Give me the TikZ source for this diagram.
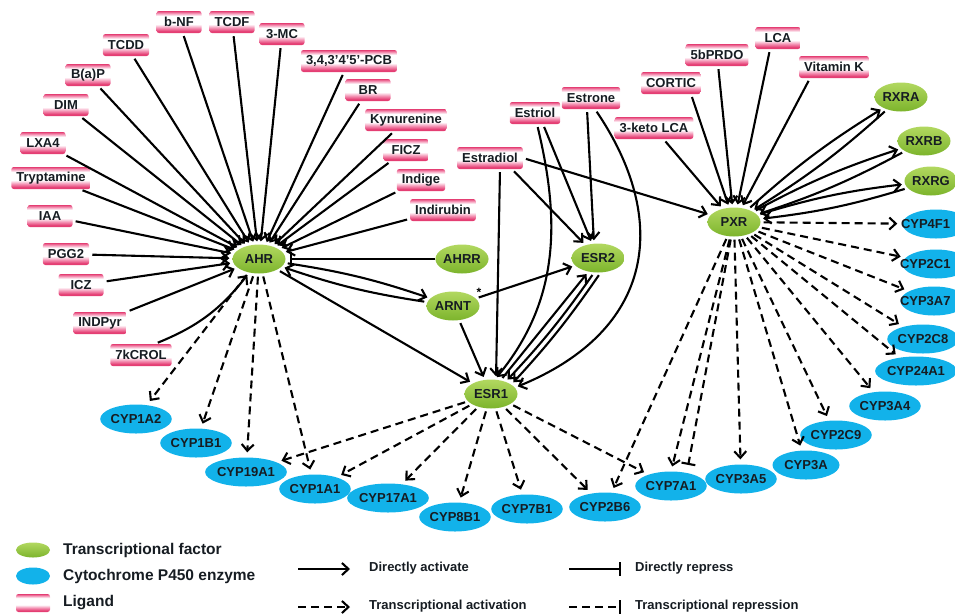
\documentclass[tikz,border=0pt]{standalone}
\usepackage{fontspec}
\setmainfont{Liberation Sans}
\usetikzlibrary{shapes.geometric,arrows.meta}
\definecolor{pinkC}{RGB}{228,62,115}
\definecolor{pinkL}{RGB}{244,150,182}
\definecolor{greenL}{RGB}{178,216,96}
\definecolor{greenD}{RGB}{124,180,44}
\definecolor{cypB}{RGB}{18,178,234}
\definecolor{txt}{RGB}{22,28,34}
\pgfdeclareverticalshading{ligshade}{100bp}{color(0bp)=(pinkC); color(25bp)=(pinkC); color(29bp)=(pinkC); color(37bp)=(pinkL); color(45bp)=(white); color(64bp)=(white); color(70bp)=(pinkL); color(75bp)=(pinkC); color(100bp)=(pinkC)}
\tikzset{
  lig/.style={shape=rectangle, rounded corners=2.5pt, shade, shading=ligshade, minimum width=45pt, minimum height=22pt, inner xsep=5pt, inner ysep=0pt, font=\fontsize{13}{13}\selectfont\bfseries, text=txt},
  tf/.style={ellipse, minimum width=53pt, minimum height=29pt, inner sep=0pt, top color=greenL, bottom color=greenD, font=\fontsize{13}{13}\selectfont\bfseries, text=txt},
  cyp/.style={ellipse, minimum width=67pt, minimum height=29pt, inner sep=0pt, fill=cypB, font=\fontsize{13}{13}\selectfont\bfseries, text=txt},
  act/.style={line width=2.1pt, -{Straight Barb[length=6.5pt,width=12pt]}, shorten >=3pt, shorten <=3pt},
  tact/.style={act, dash pattern=on 8pt off 5pt, shorten >=5pt},
  rep/.style={line width=2.1pt, -{Bar[width=14pt]}},
  trep/.style={rep, dash pattern=on 8pt off 5pt},
  legA/.style={font=\fontsize{15.5}{16}\selectfont\bfseries, text=txt, anchor=west, inner sep=0pt},
  legB/.style={font=\fontsize{13}{13}\selectfont\bfseries, text=txt, anchor=west, inner sep=0pt},
}
\begin{document}
\begin{tikzpicture}[x=1pt,y=-1pt]
\useasboundingbox (0,0) rectangle (955,614);
% ligands
\node[lig] (bnf) at (179,22) {b-NF};
\node[lig] (tcdf) at (232,22) {TCDF};
\node[lig] (mc) at (282,34) {3-MC};
\node[lig] (tcdd) at (126,45) {TCDD};
\node[lig] (pcb) at (349,61) {3,4,3'4'5'-PCB};
\node[lig] (bap) at (88,75) {B(a)P};
\node[lig] (br) at (368,90) {BR};
\node[lig] (dim) at (66,105) {DIM};
\node[lig] (kyn) at (406,120) {Kynurenine};
\node[lig] (lxa) at (43,143) {LXA4};
\node[lig] (ficz) at (406,150) {FICZ};
\node[lig] (trp) at (51,178) {Tryptamine};
\node[lig] (indige) at (421,180) {Indige};
\node[lig] (iaa) at (50,216) {IAA};
\node[lig] (indir) at (443,210) {Indirubin};
\node[lig] (pgg) at (66,254) {PGG2};
\node[lig] (icz) at (81,285) {ICZ};
\node[lig] (indpyr) at (100,323) {INDPyr};
\node[lig] (kcrol) at (141,355) {7kCROL};
\node[lig] (estradiol) at (490,158) {Estradiol};
\node[lig] (estriol) at (535,113) {Estriol};
\node[lig] (estrone) at (591,98) {Estrone};
\node[lig] (keto) at (654,128) {3-keto LCA};
\node[lig] (cortic) at (671,83) {CORTIC};
\node[lig] (bprdo) at (717,55) {5bPRDO};
\node[lig] (lca) at (778,38) {LCA};
\node[lig] (vitk) at (834,67) {Vitamin K};
% transcription factors
\node[tf] (ahr) at (259,259) {AHR};
\node[tf] (ahrr) at (462,259) {AHRR};
\node[tf] (arnt) at (453,306) {ARNT};
\node[font=\fontsize{12}{12}\selectfont\bfseries, inner sep=0pt] (ast) at (479,292) {*};
\node[tf] (esr2) at (598,258) {ESR2};
\node[tf] (esr1) at (491,394) {ESR1};
\node[tf] (pxr) at (734,222) {PXR};
\node[tf] (rxra) at (901,97) {RXRA};
\node[tf] (rxrb) at (924,141) {RXRB};
\node[tf] (rxrg) at (931,181) {RXRG};
% enzymes
\node[cyp] (cyp1a2) at (136,419) {CYP1A2};
\node[cyp] (cyp1b1) at (196,443) {CYP1B1};
\node[cyp] (cyp19a1) at (246,472) {CYP19A1};
\node[cyp] (cyp1a1) at (315,489) {CYP1A1};
\node[cyp] (cyp17a1) at (388,498) {CYP17A1};
\node[cyp] (cyp8b1) at (455,517) {CYP8B1};
\node[cyp] (cyp7b1) at (527,509) {CYP7B1};
\node[cyp] (cyp2b6) at (605,507) {CYP2B6};
\node[cyp] (cyp7a1) at (671,486) {CYP7A1};
\node[cyp] (cyp3a5) at (741,479) {CYP3A5};
\node[cyp] (cyp3a) at (806,465) {CYP3A};
\node[cyp] (cyp2c9) at (836,435) {CYP2C9};
\node[cyp] (cyp3a4) at (885,406) {CYP3A4};
\node[cyp] (cyp24a1) at (916,371) {CYP24A1};
\node[cyp] (cyp2c8) at (923,339) {CYP2C8};
\node[cyp] (cyp3a7) at (934,301) {\makebox[0pt][l]{\hspace{-34pt}CYP3A7}};
\node[cyp] (cyp2c1) at (936,264) {\makebox[0pt][l]{\hspace{-36pt}CYP2C1}};
\node[cyp] (cyp4f1) at (936,224) {\makebox[0pt][l]{\hspace{-35pt}CYP4F1}};
% AHR ligands
\foreach \s in {bnf,tcdf,mc,tcdd,pcb,bap,br,dim,kyn,lxa,ficz,trp,indige,iaa,indir,pgg,icz}
  \draw[act] (\s) -- (ahr);
\draw[act] (indpyr.north east) -- (ahr);
\draw[act] ([xshift=14pt]kcrol.north) to[bend right=15] (ahr);
% AHR relations
\draw[rep, shorten >=4pt] (ahrr) -- (ahr);
\draw[act] (ahr) to[bend left=5] (arnt);
\draw[act] (arnt) to[bend left=5] (ahr);
\draw[act] (ahr) -- (esr1);
\draw[act] (arnt) -- (esr2);
\draw[act] (arnt) -- (esr1);
\foreach \t in {cyp1a2,cyp1b1,cyp19a1,cyp1a1}
  \draw[tact] (ahr) -- (\t);
% ESR1 targets
\foreach \t in {cyp19a1,cyp1a1,cyp17a1,cyp8b1,cyp7b1,cyp2b6,cyp7a1}
  \draw[tact] (esr1) -- (\t);
% estrogens
\draw[act] ([xshift=10pt]estradiol.south) -- ([xshift=5pt]esr1.north);
\draw[act] ([xshift=22pt]estradiol.south) -- (esr2);
\draw[act] (estradiol.east) -- (pxr);
\draw[act] ([xshift=8pt]estriol.south) -- (esr2);
\draw[act] ([xshift=2pt]estriol.south) .. controls (560,220) and (560,300) .. (esr1.75);
\draw[act] ([xshift=-4pt]estrone.south) -- ([xshift=-4pt]esr2.north);
\draw[act] ([xshift=4pt]estrone.south) .. controls (670,220) and (655,330) .. (esr1.15);
\draw[act] (esr1.55) -- (esr2.-125);
\draw[act] (esr2.-105) to[bend left=4] (esr1.40);
\draw[act] (esr2.-80) to[bend left=4] (esr1.25);
% PXR
\draw[act] (keto) -- (pxr);
\draw[act] ([xshift=20pt]cortic.south) -- (pxr);
\draw[act] (bprdo) -- (pxr);
\draw[act] ([xshift=-8pt]lca.south) -- (pxr);
\draw[act] ([xshift=-24pt]vitk.south) -- (pxr);
\foreach \r in {rxra,rxrb,rxrg} {
  \draw[act] (pxr) to[bend left=5] (\r);
  \draw[act] (\r) to[bend left=5] (pxr);
}
\foreach \t in {cyp2b6,cyp3a5,cyp3a,cyp2c9,cyp3a4,cyp24a1,cyp2c8,cyp3a7,cyp2c1,cyp4f1}
  \draw[tact] (pxr) -- (\t);
\draw[tact] (pxr) -- (cyp7a1.north);
\draw[trep, shorten >=8pt, shorten <=3pt] (pxr) -- (cyp7a1.40);
% legend
\node[tf, minimum width=34pt, minimum height=15pt] (lgtf) at (33,550) {};
\node[legA] (lgtftxt) at (63,550) {Transcriptional factor};
\node[cyp, minimum width=34pt, minimum height=17pt] (lgcyp) at (33,576) {};
\node[legA] (lgcyptxt) at (63,576) {Cytochrome P450 enzyme};
\node[lig, minimum width=34pt, minimum height=18pt] (lglig) at (33,603) {};
\node[legA] (lgligtxt) at (63,603) {Ligand};
\coordinate (la1) at (298,569); \coordinate (la2) at (350,569);
\draw[act, shorten >=0pt, shorten <=0pt] (la1) -- (la2);
\node[legB] (latxt) at (369,568) {Directly activate};
\coordinate (lb1) at (298,607); \coordinate (lb2) at (350,607);
\draw[tact, shorten >=0pt, shorten <=0pt] (lb1) -- (lb2);
\node[legB] (lbtxt) at (369,606) {Transcriptional activation};
\coordinate (lc1) at (569,569); \coordinate (lc2) at (621,569);
\draw[rep] (lc1) -- (lc2);
\node[legB] (lctxt) at (635,568) {Directly repress};
\coordinate (ld1) at (569,607); \coordinate (ld2) at (621,607);
\draw[trep] (ld1) -- (ld2);
\node[legB] (ldtxt) at (635,606) {Transcriptional repression};
\end{tikzpicture}
\end{document}
